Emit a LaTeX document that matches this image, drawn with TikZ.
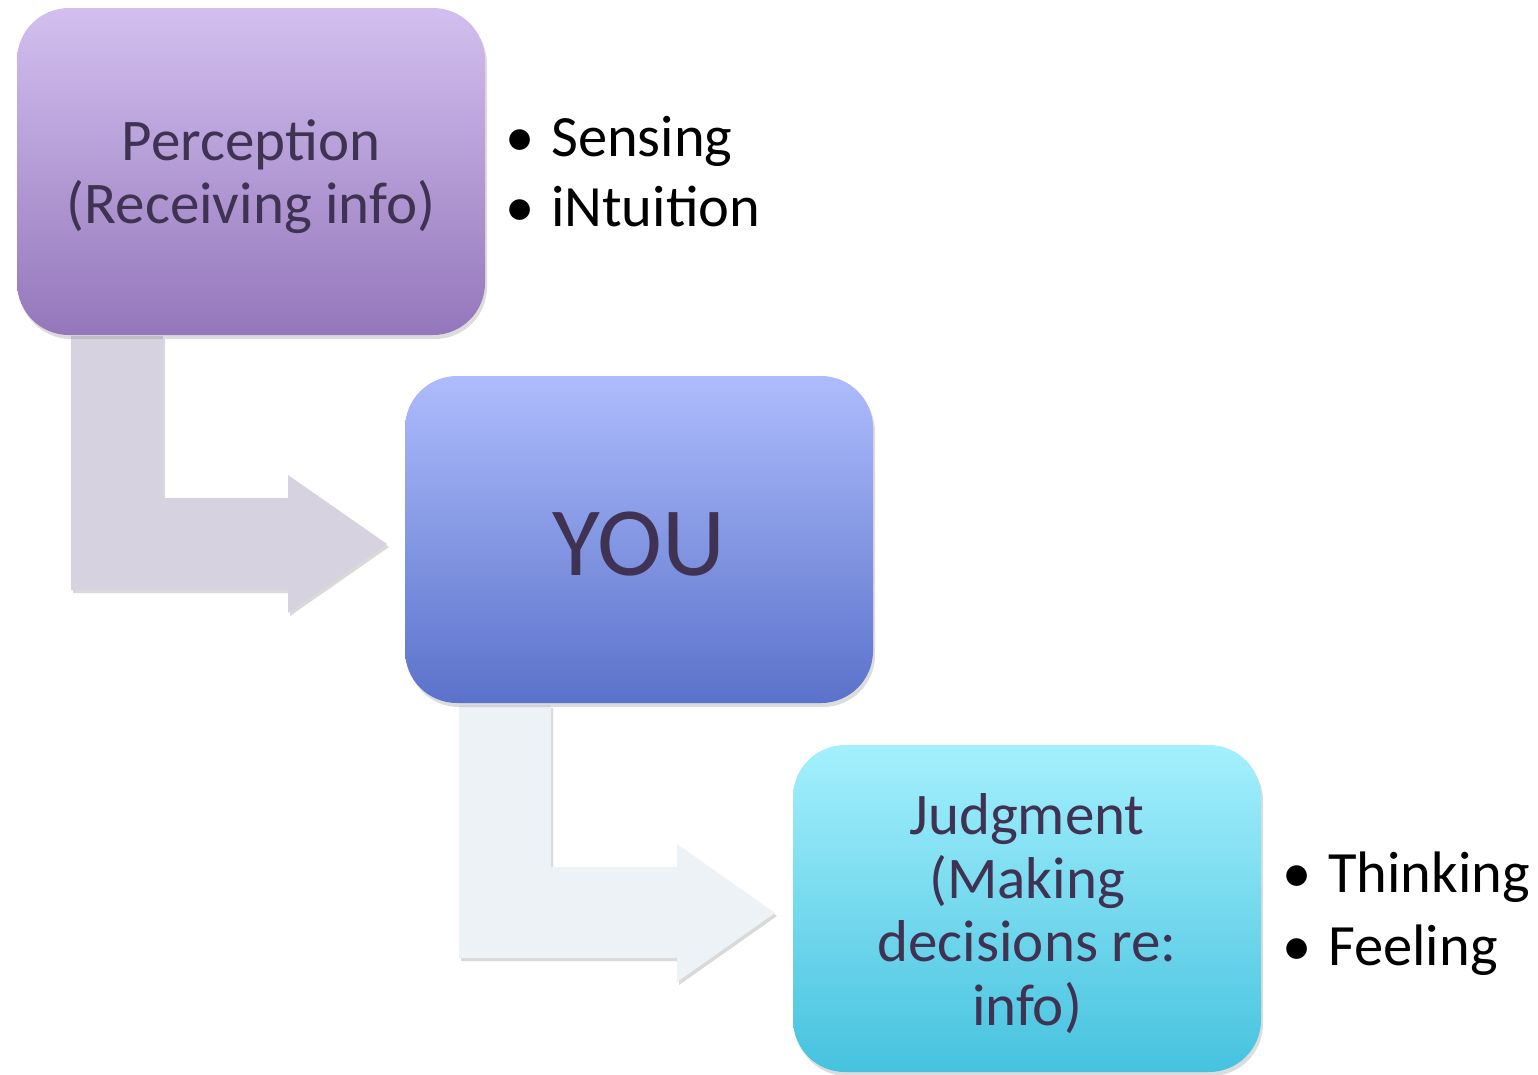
\documentclass[tikz,border=0pt]{standalone}
\usepackage{fontspec}
\setmainfont{Carlito}
\usetikzlibrary{shadows}
\definecolor{txt}{HTML}{3F3252}
\definecolor{arrowA}{HTML}{D7D2E0}
\definecolor{arrowB}{HTML}{EDF2F7}
\definecolor{percTop}{HTML}{D3BFEF}
\definecolor{percBot}{HTML}{9477BB}
\definecolor{youTop}{HTML}{AEBCFC}
\definecolor{youBot}{HTML}{5A72CA}
\definecolor{judgTop}{HTML}{A4F0FD}
\definecolor{judgBot}{HTML}{46C2DF}
\tikzset{
  stage/.style={rounded corners=52pt, minimum width=468pt, minimum height=327pt,
    inner sep=0pt, drop shadow={opacity=0.28, shadow xshift=2pt, shadow yshift=-4pt}},
  stagetext/.style={inner sep=0pt, align=center, text=txt, font=\fontsize{59}{63.5}\selectfont},
  bentarrow/.style={drop shadow={opacity=0.3, shadow xshift=2pt, shadow yshift=-3pt}},
  item/.style={anchor=base west, inner sep=0pt, font=\fontsize{58.5}{70}\selectfont, text=black},
}
\begin{document}
\begin{tikzpicture}[x=1pt, y=-1pt]
\useasboundingbox (0,0) rectangle (1538,1074);

% bent arrows between the stages
\fill[arrowA, bentarrow] (71,336) -- (163,336) -- (163,498) -- (288,498) -- (288,475)
  -- (387,544) -- (288,613) -- (288,590) -- (71,590) -- cycle;
\fill[arrowB, bentarrow] (459,705) -- (551,705) -- (551,867) -- (677,867) -- (677,844)
  -- (775,913) -- (677,982) -- (677,958) -- (459,958) -- cycle;

% stages
\node[stage, top color=percTop, bottom color=percBot] (perc) at (251,171.5) {};
\node[stage, top color=youTop, bottom color=youBot] (you) at (639,539.5) {};
\node[stage, top color=judgTop, bottom color=judgBot] (judg) at (1027,908.5) {};

\node[stagetext] (percT) at ([yshift=-5pt]perc.center) {Perception\\(Receiving info)};
\node[stagetext, font=\fontsize{98}{110}\selectfont] (youT) at ([yshift=-5pt]you.center) {YOU};
\node[stagetext] (judgT) at ([yshift=-5pt]judg.center) {Judgment\\(Making\\decisions re:\\info)};

% perception functions
\node[item] (b1) at (505,156) {•};
\node[item] (s1) at (551,156) {Sensing};
\node[item] (b2) at (505,226) {•};
\node[item] (s2) at (551,226) {iNtuition};

% judgment functions
\node[item] (b3) at (1282,892) {•};
\node[item] (s3) at (1328,892) {Thinking};
\node[item] (b4) at (1282,965) {•};
\node[item] (s4) at (1328,965) {Feeling};
\end{tikzpicture}
\end{document}
